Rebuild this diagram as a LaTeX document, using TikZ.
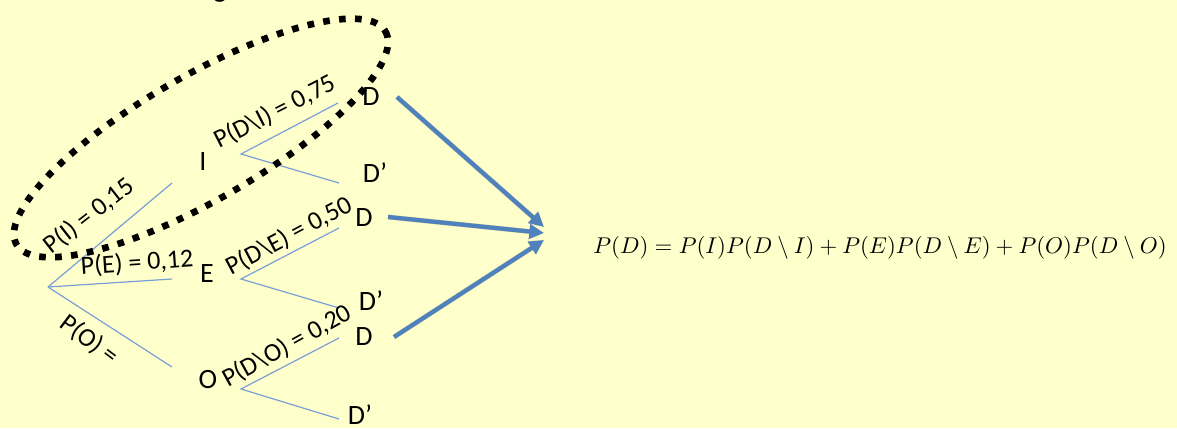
\documentclass[tikz,border=0pt]{standalone}
\usepackage{fontspec}
\setmainfont{Carlito}
\usetikzlibrary{arrows.meta}
\definecolor{bg}{RGB}{255,255,204}
\definecolor{treeblue}{RGB}{120,160,215}
\definecolor{arrblue}{RGB}{79,129,189}
\begin{document}
\begin{tikzpicture}[x=0.75pt,y=-0.75pt,
  letter/.style={font=\fontsize{21}{22}\selectfont, inner sep=0pt},
  lab/.style={font=\fontsize{19.5}{20}\selectfont, inner sep=0pt},
  branch/.style={draw=treeblue, line width=0.9pt},
  bigarrow/.style={draw=arrblue, line width=3.2pt, -{Triangle[length=11pt,width=10.5pt]}},
  arrshadow/.style={draw=black, opacity=0.16, line width=3.8pt, -{Triangle[length=11pt,width=11.5pt]}},
  dotline/.style={draw=black, line width=5pt, dash pattern=on 5pt off 7pt}]
\fill[bg] (0,0) rectangle (1177,428);
\useasboundingbox (0,0) rectangle (1177,428);
% cut-off letter at top
\node[letter, anchor=base] (gcut) at (220,-2) {g};
% first level
\coordinate (r) at (48,287);
\coordinate (bI) at (172,183);
\coordinate (bE) at (172,279);
\coordinate (bO) at (172,367);
\node[letter] (I) at (203,162) {I};
\node[letter] (E) at (207,274) {E};
\node[letter] (O) at (208,380) {O};
\draw[branch] (r) -- (bI);
\draw[branch] (r) -- (bE);
\draw[branch] (r) -- (bO);
% second level
\coordinate (fI) at (241,154);
\coordinate (fE) at (241,279);
\coordinate (fO) at (241,389);
\coordinate (eI1) at (338,103);
\coordinate (eI2) at (339,183);
\coordinate (eE1) at (339,228);
\coordinate (eE2) at (339,308);
\coordinate (eO1) at (339,338);
\coordinate (eO2) at (339,419);
\draw[branch] (eI1) -- (fI) -- (eI2);
\draw[branch] (eE1) -- (fE) -- (eE2);
\draw[branch] (eO1) -- (fO) -- (eO2);
\node[letter] (DI) at (371,97) {D};
\node[letter] (DpI) at (375,173) {D’};
\node[letter] (DE) at (364,218) {D};
\node[letter] (DpE) at (371,301) {D’};
\node[letter] (DO) at (364,337) {D};
\node[letter] (DpO) at (360,415) {D’};
% labels
\node[lab, rotate=38] (pI) at (89,216) {P(I) = 0,15};
\node[lab, rotate=4] (pE) at (137,263) {P(E) = 0,12};
\node[lab, rotate=-37] (pO) at (89,340) {P(O) =};
\node[lab, rotate=27] (pDI) at (275,112) {P(D\textbackslash I) = 0,75};
\node[lab, rotate=28] (pDE) at (289,236) {P(D\textbackslash E) = 0,50};
\node[lab, rotate=29] (pDO) at (287,346) {P(D\textbackslash O) = 0,20};
% dotted ellipse
\draw[dotline, rotate around={30:(201,138)}] (201,138) ellipse [x radius=213, y radius=62];
% arrows
\coordinate (s1) at (397,97);
\coordinate (s2) at (388,217);
\coordinate (s3) at (394,337);
\coordinate (t1) at (544,227);
\coordinate (t2) at (544,233);
\coordinate (t3) at (544,240);
\begin{scope}[shift={(1.5,2)}]
\draw[arrshadow] (s1) -- (t1);
\draw[arrshadow] (s2) -- (t2);
\draw[arrshadow] (s3) -- (t3);
\end{scope}
\draw[bigarrow] (s1) -- (t1);
\draw[bigarrow] (s2) -- (t2);
\draw[bigarrow] (s3) -- (t3);
% equation
\node[inner sep=0pt] (eq) at (880,248) {\resizebox{430pt}{!}{$P(D) = P(I)P(D \setminus I) + P(E)P(D \setminus E) + P(O)P(D \setminus O)$}};
\end{tikzpicture}
\end{document}
